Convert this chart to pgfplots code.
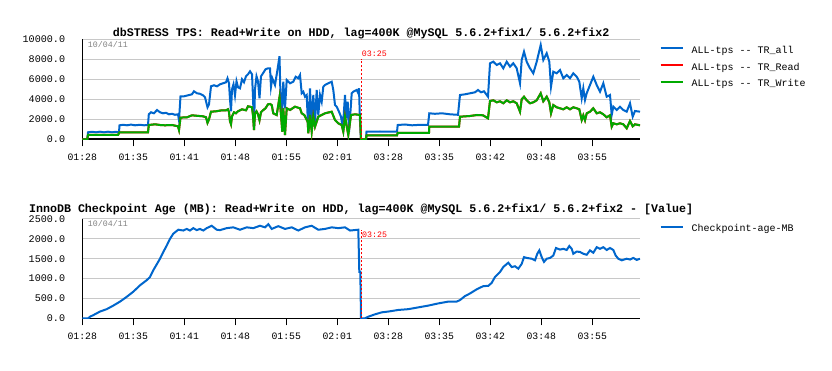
\documentclass[border=0pt]{standalone}
\usepackage{fontspec}
\setmainfont{Liberation Mono}
\usepackage{pgfplots}
\usepackage{pgfplotstable}
\pgfplotsset{compat=1.18}
\definecolor{cblue}{RGB}{0,102,204}
\definecolor{cgreen}{RGB}{0,170,0}
\definecolor{cgrid}{RGB}{200,200,200}
\definecolor{cdate}{RGB}{128,128,128}

\pgfplotstableread{
x y
82.3 0
87.3 0
88 700
92 750
96 700
100 760
104 700
108 760
112 700
116 750
119 700
119.5 1400
123 1450
127 1400
131 1470
135 1400
140 1450
144 1400
148 1430
148.8 2500
151 2700
154 2600
157 2930
160 2700
163 2600
166 2650
169 2500
172 2550
175 2450
178 2500
179 1900
180.5 4300
184 4300
188 4400
192 4500
194 4800
197 4600
200 4550
203 4400
205 4200
207.5 3200
209 3500
211 5300
214 5400
217 5300
220 5500
223 5600
226 5700
227.5 6100
229 5600
230 4000
231 2800
232 5000
233.5 5500
235 4400
236.5 5800
238 5200
240 5100
242 6000
244 5700
246 6300
248 6500
250 6800
252 6500
253 4200
254 1200
255 5000
256.5 6300
258 5800
259.5 4100
261 6300
263 6600
265.5 7000
268 7100
270 7100
271 5260
272.3 6100
275 5430
277.7 7100
279.5 8300
280.3 5100
281.7 2100
283.3 5760
285 3100
286.7 5930
290 5600
293.3 5760
295.7 6260
298.3 6100
300 6430
301.7 4600
303.3 4760
305 4260
306.7 4430
308.3 760
310 5100
311.7 1100
313.3 4430
315 1600
316.7 4930
318.3 2430
320 4430
321.7 3760
323.3 5260
325 5430
328.3 5600
331.7 5760
333.3 4930
335 3430
336.7 3260
339 2760
341 2260
342.3 1430
343.7 2430
345 4430
346.3 2100
347.7 3760
349 760
350.7 3100
351.7 4600
353.3 4760
356.7 4930
358.3 4600
359 5100
360 1760
361 0
366 0
366.5 760
372 760
380 780
388 760
397 760
397.7 1430
405 1480
412 1400
420 1450
428 1430
429.3 2600
435 2550
442 2600
450 2500
458 2450
460 4430
465 4500
470 4600
475 4700
478 4930
481 4700
484 4800
488 4260
490 7600
493.3 7760
496.7 7430
500 7600
503.3 7100
506.7 7760
510 7260
513.3 7600
516.7 7100
520 5600
521.7 7930
524 8760
526.7 7760
530 7100
533.3 6600
536.7 7760
540.7 9430
543.3 7930
546.7 8600
549.3 7760
551 5260
553.3 6760
556.7 6600
560 6930
563.3 6100
566.7 6430
570 6100
573.3 6600
576.7 6260
579.3 5760
581.7 4100
583.3 5100
585 3930
586.7 4600
590 5430
593.3 6260
596.7 5430
600 4760
603.3 5600
606.7 4260
610 4430
611.7 2430
613.3 3260
616.7 2930
620 3260
623.3 2930
626.7 2760
630 3600
632.7 2260
635 2830
640 2760
}\tpsall

\pgfplotstableread{
x y
82.3 0
87.3 0
88 430
118 430
119.5 700
148 700
148.8 1430
155 1500
160 1430
165 1400
172 1430
178 1300
179 930
180.5 2170
187 2200
192 2400
197 2350
203 2300
206 2200
207.5 1650
209 2000
211 2760
216 2800
222 2900
226 2900
228 3000
229 2700
230 1800
231 1500
232 2300
234 2700
236 2600
238 2800
242 3000
246 2900
248 3300
250 3260
252 3200
253 2400
254 930
255 2600
256.5 2800
258 2500
259.5 1900
261 2700
263 2900
265.5 3100
268 3500
270 3530
271.7 3430
273.3 2600
276.7 2430
279.5 4200
281 2430
282.3 760
283.3 3100
285 430
286.7 3100
290 2930
295 3260
300 3100
301.7 2600
304.3 2430
307.7 1760
308.3 600
310 2430
311.7 760
313.3 2260
315 1260
318.3 2260
321.7 2430
325 2600
331.7 2760
335 1930
338.3 1600
341.7 1430
343.3 760
345 2260
348.3 430
351 2430
355 2500
360 2430
361 0
366 0
366.5 400
397 400
397.7 650
429 650
429.3 1260
459 1260
460 2260
470 2330
477 2430
483 2400
488 2100
490 3830
493.3 3900
496.7 3700
500 3800
503.3 3600
506.7 3900
510 3700
513.3 3800
516.7 3600
520 2760
521.7 4000
524 4260
526.7 3900
530 3600
533.3 3700
536.7 3900
540.7 4600
543.3 3800
546.7 4260
549.3 3700
551 2600
553.3 3430
556.7 3200
560 3100
563.3 3000
566.7 3200
570 3000
573.3 3200
576.7 3100
579.3 3000
581.7 1930
583.3 2400
585 1900
586.7 2600
590 2760
593.3 3100
596.7 2600
600 2700
603.3 2500
606.7 2200
610 2400
611.7 1260
613.3 1600
616.7 1500
620 1600
623.3 1500
626.7 1100
630 1830
632.7 1300
635 1500
640 1400
}\tpswrite

\pgfplotstableread{
x y
82.3 0
88.3 0
90 40
93.3 80
100 170
106.7 230
113.3 320
120 420
126.7 540
133.3 670
140 830
146.7 960
150 1040
153.3 1210
160 1500
163.3 1670
166.7 1830
170 2000
173.3 2130
178.3 2230
183.3 2210
186.7 2250
190 2210
193.3 2270
196.7 2220
200 2250
203.3 2210
206.7 2270
211.7 2330
216.7 2230
220 2220
226.7 2270
233.3 2290
240 2230
246.7 2290
253.3 2270
260 2330
265 2290
268.3 2370
271.7 2250
278.3 2320
285 2250
291.7 2290
298.3 2210
305 2290
311.7 2330
318.3 2230
325 2250
331.7 2290
338.3 2270
345 2290
350 2210
358.3 2230
359.3 1170
360.3 1170
361 0
365 0
368.3 40
375 100
381.7 150
388.3 170
398.3 210
408.3 230
418.3 275
428.3 320
438.3 375
448.3 420
456.7 420
460 460
465 560
470 625
476.7 730
483.3 810
488.3 817
491.7 892
495 1042
500 1167
503.3 1292
508.3 1400
511.7 1290
515 1310
518.3 1250
521.7 1370
524 1540
526.7 1520
531.7 1500
535 1460
537.3 1625
539.3 1710
541.7 1540
544 1420
546.7 1500
550 1520
553.3 1580
556 1770
560 1730
563.3 1750
566.7 1720
569.3 1820
571.7 1750
573.3 1625
576.7 1680
580 1670
583.3 1625
586.7 1600
590 1710
593.3 1650
596.7 1790
600 1750
603.3 1790
606.7 1720
610 1770
613.3 1720
615.7 1580
618.3 1500
621.7 1460
626.7 1500
630 1480
633.3 1520
636.7 1470
640 1500
}\ckpt

\pgfplotsset{
  dbs/.style={
    scale only axis, width=557.7pt,
    xmin=82.3, xmax=640, ymin=0,
    axis lines*=left,
    axis line style={black, line width=1.6pt},
    xtick={82.3,133.3,184.3,235.3,286.3,337.3,388.3,439.3,490.3,541.3,592.3},
    xticklabels={01:28,01:35,01:41,01:48,01:55,02:01,03:28,03:35,03:42,03:48,03:55},
    tick align=outside, major tick length=7pt,
    xtick style={black, line width=1.2pt},
    ytick style={draw=none},
    ymajorgrids, grid style={cgrid, line width=1pt},
    scaled y ticks=false,
    tick label style={font=\fontsize{9.8}{11}\selectfont, inner sep=0pt},
    xticklabel style={anchor=base, yshift=-13.7pt},
    yticklabel style={anchor=east, xshift=-10pt, font=\fontsize{10.1}{11}\selectfont,
      /pgf/number format/fixed, /pgf/number format/fixed zerofill,
      /pgf/number format/precision=1, /pgf/number format/1000 sep={},
      /pgf/number format/assume math mode=true},
    title style={font=\bfseries\fontsize{11.65}{13}\selectfont, at={(0.5,1)}, anchor=base, yshift=-3.7pt, inner sep=0pt},
    legend cell align=left,
    legend image code/.code={\draw[#1, line width=2pt] (0pt,2.8pt) -- (22.4pt,2.8pt);},
    legend style={draw=none, fill=none, inner sep=0pt, anchor=north west,
      font=\fontsize{10}{12}\selectfont, row sep=7.9pt, column sep=7.6pt,
      nodes={inner sep=0pt, text height=7pt, text depth=2pt}},
  }
}

\begin{document}
\begin{tikzpicture}
\path[use as bounding box] (0,0) rectangle (832pt,370pt);
\begin{axis}[dbs,
  at={(82.3pt,230.7pt)}, anchor=south west,
  height=100pt, ymax=10000, ytick={0,2000,4000,6000,8000,10000},
  title={dbSTRESS TPS: Read+Write on HDD, lag=400K @MySQL 5.6.2+fix1/ 5.6.2+fix2},
  legend style={at={(1.0346,0.933)}},
]
\addplot[cblue, line width=2pt] table {\tpsall};
\addlegendentry{ALL-tps -{}- TR\_all}
\addplot[red, line width=2pt] table {\tpswrite};
\addlegendentry{ALL-tps -{}- TR\_Read}
\addplot[cgreen, line width=2pt] table {\tpswrite};
\addlegendentry{ALL-tps -{}- TR\_Write}
\addplot[red, line width=1pt, dash pattern=on 2pt off 2pt, forget plot] coordinates {(361,0) (361,8030)};
\node[anchor=base west, inner sep=0pt, text=cdate, font=\fontsize{8.3}{10}\selectfont] at (axis cs:87.7,9160) {10/04/11};
\node[anchor=base west, inner sep=0pt, text=red, font=\fontsize{8.3}{10}\selectfont] at (axis cs:361.7,8230) {03:25};
\end{axis}

\begin{axis}[dbs,
  at={(82.3pt,51.7pt)}, anchor=south west,
  height=99.3pt, ymax=2500, ytick={0,500,1000,1500,2000,2500},
  title={InnoDB Checkpoint Age (MB): Read+Write on HDD, lag=400K @MySQL 5.6.2+fix1/ 5.6.2+fix2 - [Value]},
  title style={yshift=3.8pt},
  legend style={at={(1.0346,0.9425)}},
]
\addplot[cblue, line width=2pt] table {\ckpt};
\addlegendentry{Checkpoint-age-MB}
\addplot[red, line width=1pt, dash pattern=on 2pt off 2pt, forget plot] coordinates {(361,0) (361,2220)};
\node[anchor=base west, inner sep=0pt, text=cdate, font=\fontsize{8.3}{10}\selectfont] at (axis cs:87.7,2306) {10/04/11};
\node[anchor=base west, inner sep=0pt, text=red, font=\fontsize{8.3}{10}\selectfont] at (axis cs:362,2046) {03:25};
\end{axis}
\end{tikzpicture}
\end{document}
